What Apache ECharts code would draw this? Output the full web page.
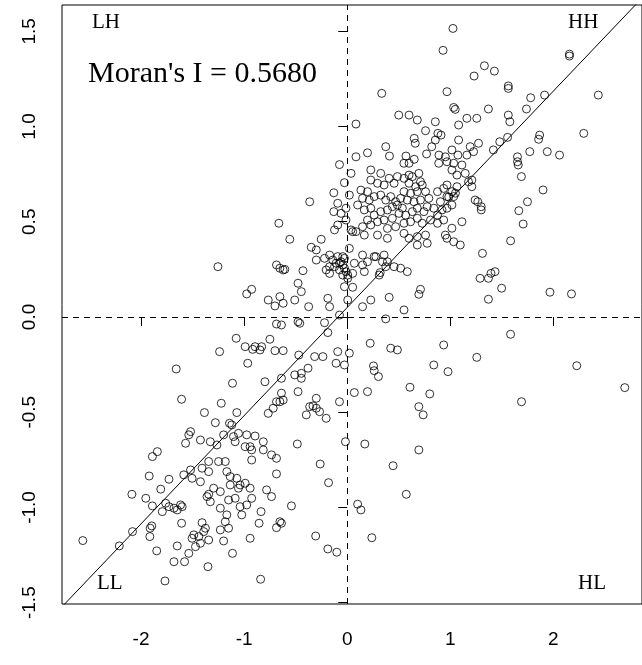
<!DOCTYPE html>
<html>
<head>
<meta charset="utf-8">
<title>Moran scatter plot</title>
<script src="https://cdn.jsdelivr.net/npm/echarts@6/dist/echarts.min.js"></script>
<style>
html, body { margin: 0; padding: 0; background: #fff; }
#chart { width: 642px; height: 665px; }
</style>
</head>
<body>
<div id="chart"></div>
<script>
// tick labels
var xTicks = [-2, -1, 0, 1, 2];
var yTicks = [-1.5, -1.0, -0.5, 0.0, 0.5, 1.0, 1.5];

// Moran's I (slope of the fitted line) and the line's intercept
var moranI = 0.5680;
var lineIntercept = 0.05;

// [z, lagged z], one list per quadrant
var hhPoints = [
    [1.026,1.515],[0.93,1.40],[2.156,1.38],[2.156,1.37],[1.331,1.319],[1.231,1.265],[1.428,1.291],[1.563,1.213],[1.563,1.20],
    [0.968,1.183],[2.436,1.165],[1.78,1.151],[1.915,1.165],[1.739,1.092],[1.37,1.092],[1.033,1.10],[1.048,1.09],[1.161,1.043],
    [1.257,1.043],[1.081,1.008],[1.563,1.06],[1.578,1.025],[2.295,0.964],[1.867,0.955],[1.857,0.933],[1.556,0.943],[1.48,0.92],
    [1.418,0.877],[1.081,0.929],[1.274,0.912],[1.226,0.868],[1.193,0.894],[1.161,0.85],[1.074,0.85],[1.771,0.868],[1.941,0.868],
    [2.06,0.85],[1.652,0.841],[1.652,0.815],[1.659,0.798],[1.69,0.737],[1.209,0.719],[1.209,0.684],[1.90,0.667],[1.267,0.605],
    [1.749,0.605],[1.05,0.65],[0.985,0.63],
    [0.335,1.174],[0.50,1.06],[0.60,1.06],[0.68,1.034],[0.855,1.025],[0.085,1.013],[0.76,0.978],[0.88,0.964],[0.91,0.955],
    [0.65,0.938],[0.66,0.912],[0.855,0.929],[0.374,0.894],[0.41,0.845],[0.197,0.862],[0.085,0.841],[0.82,0.894],[0.77,0.856],
    [0.89,0.85],[0.952,0.841],[0.57,0.845],[0.65,0.828],[0.55,0.807],[0.037,0.754],[1.016,0.877],[0.60,0.807],[0.888,0.807],
    [0.968,0.815],[1.033,0.807],[1.113,0.798],[1.016,0.772],[1.145,0.754],[1.065,0.745],[1.177,0.71],[0.021,0.64],
    [0.229,0.772],[0.325,0.754],[0.229,0.719],[0.294,0.702],[0.358,0.693],[0.407,0.728],[0.455,0.702],[0.487,0.737],[0.551,0.728],
    [0.60,0.745],[0.632,0.737],[0.695,0.754],[0.711,0.71],[0.60,0.702],[0.664,0.684],[0.728,0.693],[0.76,0.658],[0.133,0.666],
    [0.197,0.658],[0.149,0.623],[0.214,0.614],[0.262,0.632],[0.325,0.64],[0.374,0.614],[0.422,0.632],[0.47,0.605],[0.518,0.623],
    [0.551,0.658],[0.615,0.649],[0.68,0.658],[0.583,0.614],[0.648,0.605],[0.711,0.614],[0.792,0.623],[0.876,0.658],[0.936,0.675],
    [0.968,0.693],[1.016,0.658],[1.065,0.684],[0.968,0.632],[1.033,0.632],[0.101,0.588],[0.166,0.562],[0.229,0.571],[0.262,0.535],
    [0.325,0.553],[0.39,0.562],[0.438,0.579],[0.487,0.588],[0.535,0.571],[0.503,0.544],[0.567,0.535],[0.632,0.553],[0.68,0.571],
    [0.744,0.553],[0.776,0.579],[0.84,0.571],[0.876,0.535],[0.92,0.562],[0.968,0.571],[1.016,0.588],[0.904,0.605],[0.037,0.457],
    [0.085,0.448],[0.149,0.474],[0.229,0.483],[0.197,0.509],[0.294,0.50],[0.358,0.509],[0.438,0.518],[0.39,0.465],[0.47,0.474],
    [0.551,0.492],[0.615,0.50],[0.68,0.518],[0.728,0.492],[0.808,0.509],[0.876,0.492],[0.936,0.509],[0.166,0.43],[0.294,0.43],
    [0.39,0.413],[0.551,0.439],[0.60,0.413],[0.68,0.422],[0.76,0.43],[0.776,0.387],[0.68,0.378],[0.952,0.43],[1.016,0.466],
    [1.113,0.50],[1.097,0.378],[1.033,0.395],[0.968,0.413],[1.241,0.614],[0.358,0.325],[0.278,0.317],[0.149,0.325],[0.197,0.29],
    [0.39,0.29],[0.455,0.264],[0.374,0.264],
    [1.30,0.579],[1.30,0.562],[1.665,0.558],[1.707,0.488],[1.585,0.40],[1.312,0.334],[1.289,0.203],[1.37,0.203],[1.395,0.229],
    [1.434,0.238],[1.498,0.151],[1.37,0.093],[1.967,0.13],[2.176,0.121],
    [0.005,0.22],[0.005,0.203],[0.262,0.317],[0.342,0.29],[0.518,0.256],[0.583,0.238],[0.32,0.233],[0.31,0.22],[0.149,0.273],
    [0.166,0.238],[0.069,0.282],[0.053,0.229],[0.053,0.156],[0.005,0.089],[0.149,0.054],[0.229,0.089],[0.407,0.103],[0.551,0.037],
    [0.711,0.145],[0.695,0.119],[0.053,0.448],[0.021,0.36]
];

var lhPoints = [
    [-0.075,0.80],[-0.027,0.705],[-0.13,0.652],[-0.364,0.605],[-0.092,0.597],[-0.012,0.571],[-0.06,0.544],[-0.012,0.509],
    [-0.043,0.317],[-0.075,0.282],[-0.663,0.492],[-0.557,0.408],[-0.349,0.366],[-0.252,0.408],[-0.13,0.553],[-0.092,0.483],
    [-0.123,0.457],[-0.22,0.308],[-0.171,0.325],[-0.14,0.299],[-0.108,0.282],[-0.092,0.317],[-0.06,0.29],[-0.043,0.273],
    [-0.027,0.256],[-0.012,0.238],[-0.043,0.22],[-0.075,0.247],[-0.123,0.264],[-0.171,0.264],[-0.027,0.308],[-0.204,0.247],
    [-0.171,0.229],[-0.30,0.299],[-0.027,0.159],[-0.075,0.01],[-0.188,0.098],[-0.171,0.054],[-0.374,0.054],[-0.477,0.177],
    [-0.445,0.133],[-0.509,0.089],[-0.621,0.072],[-0.701,0.058],[-0.653,0.107],[-0.766,0.089],[-0.653,0.256],[-0.621,0.247],
    [-0.686,0.273],[-0.605,0.25],[-0.429,0.243],[-0.30,0.352],[-1.254,0.264],[-0.975,0.121],[-0.927,0.145]
];

var llPoints = [
    [-0.686,-0.037],[-0.638,-0.042],[-0.477,-0.025],[-0.46,-0.033],[-0.22,-0.03],[-0.188,-0.082],[-0.75,-0.117],[-0.894,-0.156],
    [-0.846,-0.173],[-0.83,-0.156],[-0.701,-0.177],[-0.621,-0.177],[-0.47,-0.20],[-0.316,-0.208],[-0.236,-0.208],[-0.092,-0.182],
    [-0.108,-0.243],[-0.027,-0.252],[-0.075,-0.445],[-0.30,-0.427],[-0.477,-0.392],[-0.638,-0.40],[-0.686,-0.445],[-0.653,-0.445],
    [-0.621,-0.436],[-0.798,-0.34],[-0.638,-0.322],[-0.509,-0.304],[-0.445,-0.296],[-0.445,-0.322],[-0.38,-0.269],
    [-1.077,-0.112],[-0.99,-0.156],[-0.917,-0.17],[-1.238,-0.182],[-0.965,-0.243],[-1.659,-0.273],[-1.113,-0.348],[-1.607,-0.432],
    [-1.222,-0.453],[-0.364,-0.471],[-0.30,-0.479],[-0.268,-0.497],[-0.397,-0.514],[-0.204,-0.532],[-0.332,-0.467],[-0.718,-0.479],
    [-0.766,-0.506],[-0.017,-0.655],[-0.484,-0.667],[-0.262,-0.772],[-0.181,-0.87],[-0.541,-0.992],[-0.306,-1.15],[-0.188,-1.218],
    [-0.101,-1.235],[-0.84,-1.377],[-0.894,-0.625],[-0.814,-0.655],[-0.927,-0.698],[-0.814,-0.698],[-0.734,-0.724],[-0.686,-0.742],
    [-0.686,-0.824],[-0.782,-0.908],[-0.734,-0.943],[-0.927,-0.952],[-0.836,-1.022],[-0.855,-1.083],[-0.653,-1.075],[-0.686,-1.106],
    [-0.638,-1.083],
    [-1.385,-0.502],[-1.071,-0.502],[-1.279,-0.555],[-1.142,-0.558],[-1.12,-0.567],[-1.52,-0.602],[-1.537,-0.619],[-1.568,-0.663],
    [-1.424,-0.646],[-1.328,-0.655],[-1.264,-0.672],[-1.199,-0.619],[-1.103,-0.628],[-1.055,-0.611],[-0.975,-0.619],[-1.087,-0.655],
    [-0.99,-0.681],[-0.942,-0.681],[-0.927,-0.751],[-1.842,-0.707],[-1.89,-0.733],[-1.344,-0.759],[-1.248,-0.759],[-1.183,-0.759],
    [-1.52,-0.803],[-1.585,-0.829],[-1.408,-0.794],[-1.505,-0.847],[-1.424,-0.865],[-1.344,-0.812],[-1.168,-0.812],[-1.921,-0.835],
    [-1.729,-0.852],[-1.135,-0.838],[-1.071,-0.847],[-0.99,-0.873],[-1.039,-0.882],[-1.135,-0.882],[-1.055,-0.899],[-0.942,-0.899],
    [-1.809,-0.904],[-1.344,-0.931],[-1.36,-0.943],[-1.296,-0.899],[-1.231,-0.917],[-1.328,-0.97],[-2.089,-0.931],[-1.954,-0.952],
    [-1.89,-0.992],[-1.761,-0.978],[-1.649,-1.013],[-1.601,-0.996],[-1.681,-1.004],[-1.617,-0.987],[-1.794,-1.022],[-1.151,-0.961],
    [-1.087,-0.952],[-1.231,-1.004],[-1.168,-1.039],[-1.039,-0.996],[-0.975,-0.987],[-1.023,-1.039],[-1.183,-1.075],[-1.151,-1.109],
    [-1.231,-1.118],[-0.942,-1.162],[-1.607,-1.083],[-1.896,-1.097],[-1.912,-1.109],[-1.915,-1.153],[-2.083,-1.127],[-2.211,-1.202],
    [-2.565,-1.174],[-1.408,-1.08],[-1.376,-1.109],[-1.392,-1.127],[-1.488,-1.144],[-1.505,-1.162],[-1.44,-1.153],[-1.344,-1.171],
    [-1.424,-1.188],[-1.472,-1.206],[-1.537,-1.241],[-1.848,-1.228],[-1.649,-1.202],[-1.681,-1.285],[-1.578,-1.285],[-1.351,-1.311],
    [-1.113,-1.241],[-1.199,-1.176],[-1.768,-1.386],[-1.729,-0.996]
];

var hlPoints = [
    [0.374,-0.01],[0.021,-0.19],[0.223,-0.138],[0.422,-0.164],[0.487,-0.173],[0.255,-0.257],[0.262,-0.282],[0.303,-0.313],
    [0.84,-0.252],[0.609,-0.369],[0.801,-0.404],[0.069,-0.397],[0.197,-0.392],[1.585,-0.091],[0.936,-0.147],[1.257,-0.212],
    [0.978,-0.287],[2.227,-0.256],[2.693,-0.371],[1.691,-0.445],[0.695,-0.471],[0.737,-0.514],[0.171,-0.667],[0.695,-0.698],
    [0.445,-0.781],[0.573,-0.931],[0.101,-0.983],[0.133,-1.013],[0.239,-1.159]
];

var xMin = -2.767, xMax = 2.86;
var yMin = -1.507, yMax = 1.638;

var chart = echarts.init(document.getElementById('chart'));

var allPoints = hhPoints.concat(lhPoints, llPoints, hlPoints);
var fitLine = [
    [xMin, lineIntercept + moranI * xMin],
    [xMax, lineIntercept + moranI * xMax]
];

var serif = '"Liberation Serif", "Times New Roman", serif';
var sans = '"Liberation Sans", Arial, sans-serif';

var option = {
    animation: false,
    backgroundColor: '#fff',
    grid: {
        left: 62,
        top: 5,
        right: -4,
        bottom: 61,
        show: true,
        borderColor: '#000',
        borderWidth: 1,
        backgroundColor: 'transparent'
    },
    xAxis: {
        type: 'value',
        min: xMin,
        max: xMax,
        splitLine: { show: false },
        axisLine: { show: false },
        axisTick: {
            show: true,
            length: 9,
            customValues: xTicks,
            lineStyle: { color: '#000', width: 1 }
        },
        axisLabel: {
            customValues: xTicks,
            color: '#000',
            fontSize: 19,
            fontFamily: sans,
            margin: 26
        }
    },
    yAxis: {
        type: 'value',
        min: yMin,
        max: yMax,
        splitLine: { show: false },
        axisLine: { show: false },
        axisTick: {
            show: true,
            length: 9,
            customValues: yTicks,
            lineStyle: { color: '#000', width: 1 }
        },
        axisLabel: {
            customValues: yTicks,
            color: '#000',
            fontSize: 19,
            fontFamily: sans,
            rotate: 90,
            margin: 23,
            formatter: function (v) { return v.toFixed(1); }
        }
    },
    series: [
        {
            type: 'scatter',
            data: allPoints,
            symbol: 'circle',
            symbolSize: 8,
            itemStyle: {
                color: 'transparent',
                borderColor: '#000',
                borderWidth: 1
            },
            silent: true
        },
        {
            type: 'line',
            data: fitLine,
            symbol: 'none',
            clip: true,
            silent: true,
            lineStyle: { color: '#000', width: 1 },
            markLine: {
                silent: true,
                symbol: 'none',
                label: { show: false },
                lineStyle: { color: '#000', width: 1, type: [6, 5] },
                data: [{ xAxis: 0 }, { yAxis: 0 }]
            }
        }
    ],
    graphic: [
        { type: 'text', left: 92, top: 12, style: { text: 'LH', font: '21px ' + serif, fill: '#000' } },
        { type: 'text', left: 568, top: 12, style: { text: 'HH', font: '21px ' + serif, fill: '#000' } },
        { type: 'text', left: 97, top: 573, style: { text: 'LL', font: '21px ' + serif, fill: '#000' } },
        { type: 'text', left: 578, top: 573, style: { text: 'HL', font: '21px ' + serif, fill: '#000' } },
        { type: 'text', left: 88, top: 59, style: { text: "Moran's I = 0.5680", font: '30px ' + serif, fill: '#000' } }
    ]
};

chart.setOption(option);
</script>
</body>
</html>
